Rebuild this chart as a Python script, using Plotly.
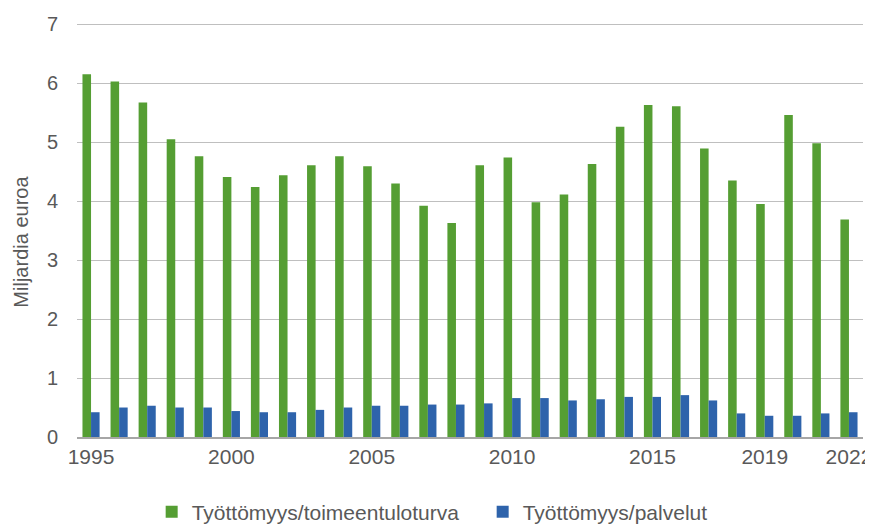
import plotly.graph_objects as go

years = [str(y) for y in range(1995, 2023)]
toimeentuloturva = [6.15, 6.03, 5.67, 5.05, 4.76, 4.41, 4.24, 4.44, 4.61,
                    4.76, 4.59, 4.30, 3.92, 3.63, 4.61, 4.74, 3.98, 4.11,
                    4.63, 5.26, 5.63, 5.61, 4.89, 4.35, 3.95, 5.46, 4.98, 3.69]
palvelut = [0.42, 0.50, 0.53, 0.50, 0.50, 0.44, 0.42, 0.42, 0.46,
            0.50, 0.53, 0.53, 0.55, 0.55, 0.57, 0.66, 0.66, 0.62,
            0.64, 0.68, 0.68, 0.71, 0.62, 0.40, 0.36, 0.36, 0.40, 0.42]
tick_years = ["1995", "2000", "2005", "2010", "2015", "2019", "2022"]
series_names = ["Työttömyys/toimeentuloturva", "Työttömyys/palvelut"]
y_title = "Miljardia euroa"

FONT = "Liberation Sans, Arial, sans-serif"
GREY = "#595959"

fig = go.Figure()
fig.add_trace(go.Bar(x=years, y=toimeentuloturva, name=series_names[0],
                     marker=dict(color="#559E33", line=dict(width=0))))
fig.add_trace(go.Bar(x=years, y=palvelut, name=series_names[1],
                     marker=dict(color="#2E63AB", line=dict(width=0))))

# page body has an 8px margin, so the figure is 865x517 to fill the 873x525 window
fig.update_layout(
    width=865, height=517,
    margin=dict(l=69, r=10, t=15, b=88),
    paper_bgcolor="white", plot_bgcolor="white",
    barmode="group", bargap=0.39, bargroupgap=0,
    font=dict(family=FONT, color=GREY, size=20),
    showlegend=True,
    legend=dict(orientation="h", x=0.095, xanchor="left",
                yref="container", y=0.025, yanchor="middle",
                entrywidth=286, entrywidthmode="pixels",
                font=dict(size=21, color=GREY), itemwidth=30, traceorder="normal"),
    xaxis=dict(type="category", tickmode="array", tickvals=tick_years, ticktext=tick_years,
               showgrid=False, showline=True, linecolor="#A6A6A6", linewidth=2,
               ticks="", tickfont=dict(size=21, color=GREY), automargin=False),
    yaxis=dict(range=[0, 7.02], tickvals=[0, 1, 2, 3, 4, 5, 6, 7],
               showgrid=True, gridcolor="#BFBFBF", gridwidth=1,
               zeroline=False, showline=False, ticks="", ticklabelstandoff=18,
               tickfont=dict(size=20, color=GREY), automargin=False),
    annotations=[dict(text=y_title, textangle=-90, xref="paper", yref="paper",
                      x=-0.0712, y=0.472, xanchor="center", yanchor="middle",
                      showarrow=False, font=dict(size=20, color=GREY))],
)

fig.write_html("out.html")
